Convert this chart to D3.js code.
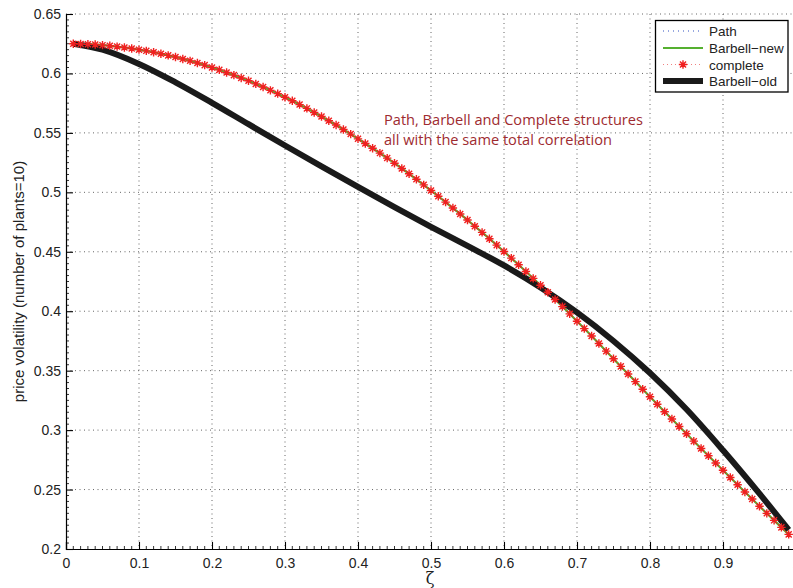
<!DOCTYPE html>
<html><head><meta charset="utf-8">
<script src="https://cdn.jsdelivr.net/npm/d3@7"></script>
<style>
body{margin:0;background:#fff;}
svg{display:block;font-family:"Liberation Sans",Arial,sans-serif;}
</style></head>
<body>
<svg id="chart" width="793" height="588"></svg>
<script>
// ---------- data ----------
const zetaComplete = d3.range(1, 100).map(i => i / 100);
const complete = [
 0.6250,0.6248,0.6246,0.6243,0.6238,0.6233,0.6226,0.6218,0.6210,0.6200,
 0.6190,0.6178,0.6166,0.6152,0.6138,0.6122,0.6106,0.6088,0.6070,0.6050,
 0.6030,0.6008,0.5986,0.5962,0.5938,0.5912,0.5886,0.5858,0.5830,0.5800,
 0.5770,0.5738,0.5706,0.5672,0.5638,0.5602,0.5566,0.5528,0.5490,0.5450,
 0.5411,0.5371,0.5330,0.5288,0.5245,0.5201,0.5156,0.5110,0.5063,0.5015,
 0.4967,0.4918,0.4868,0.4818,0.4767,0.4715,0.4663,0.4610,0.4556,0.4502,
 0.4447,0.4391,0.4334,0.4276,0.4218,0.4159,0.4099,0.4039,0.3978,0.3916,
 0.3854,0.3791,0.3728,0.3664,0.3600,0.3536,0.3472,0.3408,0.3344,0.3281,
 0.3218,0.3155,0.3093,0.3031,0.2969,0.2907,0.2845,0.2784,0.2723,0.2662,
 0.2601,0.2540,0.2480,0.2420,0.2360,0.2300,0.2241,0.2182,0.2123
];
const pathSeries = complete.slice();      // identical curves
const barbellNew = complete.slice();
const zetaOld = [0.01,0.05,0.10,0.15,0.20,0.25,0.30,0.35,0.40,0.45,0.50,0.55,0.60,0.65,0.70,0.75,0.80,0.85,0.90,0.95,0.99];
const barbellOld = [0.6250,0.6200,0.6080,0.5925,0.5753,0.5573,0.5394,0.5218,0.5045,0.4875,0.4710,0.4550,0.4385,0.4200,0.3990,0.3750,0.3480,0.3175,0.2830,0.2465,0.2160];

const xTickValues = [0,0.1,0.2,0.3,0.4,0.5,0.6,0.7,0.8,0.9,1];
const xTickLabels = ["0","0.1","0.2","0.3","0.4","0.5","0.6","0.7","0.8","0.9","1"];
const yTickValues = [0.2,0.25,0.3,0.35,0.4,0.45,0.5,0.55,0.6,0.65];
const yTickLabels = ["0.2","0.25","0.3","0.35","0.4","0.45","0.5","0.55","0.6","0.65"];
const legendNames = ["Path","Barbell\u2212new","complete","Barbell\u2212old"];

// ---------- layout ----------
const svg = d3.select("#chart");
const L = 66, R = 796, T = 14, B = 549;
const x = d3.scaleLinear().domain([0,1]).range([L,R]);
const y = d3.scaleLinear().domain([0.2,0.65]).range([B,T]);

// grid
const grid = svg.append("g").attr("stroke","#555").attr("stroke-width",0.9).attr("stroke-dasharray","1,3.5");
grid.selectAll(".gx").data(xTickValues.slice(1)).join("line")
  .attr("x1",d=>x(d)).attr("x2",d=>x(d)).attr("y1",T).attr("y2",B);
grid.selectAll(".gy").data(yTickValues.slice(1)).join("line")
  .attr("x1",L).attr("x2",R).attr("y1",d=>y(d)).attr("y2",d=>y(d));

// axes (ticks inside)
const xAxis = d3.axisBottom(x).tickValues(xTickValues).tickSize(-7).tickPadding(9)
  .tickFormat((d,i)=>xTickLabels[i]);
const yAxis = d3.axisLeft(y).tickValues(yTickValues).tickSize(-7).tickPadding(5)
  .tickFormat((d,i)=>yTickLabels[i]);
const gx = svg.append("g").attr("transform",`translate(0,${B})`).call(xAxis);
const gy = svg.append("g").attr("transform",`translate(${L},0)`).call(yAxis);
[gx,gy].forEach(g=>{
  g.select(".domain").attr("stroke","#000").attr("stroke-width",1.2);
  g.selectAll(".tick line").attr("stroke","#000").attr("stroke-width",1.1);
  g.selectAll(".tick text").attr("font-size",14).attr("fill","#222")
    .attr("font-family","'Liberation Sans',Arial,sans-serif");
});
// minor ticks
const xMinor = d3.range(0,101).map(i=>i/100).filter(v=>Math.round(v*100)%10!==0);
const yMinor = d3.range(40,131).map(i=>i/200).filter(v=>Math.round(v*200)%10!==0);
svg.append("g").selectAll("line").data(xMinor).join("line")
  .attr("x1",d=>x(d)).attr("x2",d=>x(d)).attr("y1",B).attr("y2",B-3)
  .attr("stroke","#000").attr("stroke-width",0.8);
svg.append("g").selectAll("line").data(yMinor).join("line")
  .attr("x1",L).attr("x2",L+3).attr("y1",d=>y(d)).attr("y2",d=>y(d))
  .attr("stroke","#000").attr("stroke-width",0.8);

// labels
svg.append("text").attr("x",430).attr("y",584).attr("text-anchor","middle")
  .attr("font-size",16).attr("fill","#222").attr("font-family","'DejaVu Serif',serif").text("\u03b6");
svg.append("text").attr("transform",`translate(24,${(T+B)/2}) rotate(-90)`)
  .attr("text-anchor","middle").attr("font-size",15).attr("fill","#222")
  .text("price volatility (number of plants=10)");

// series
const line = d3.line().x(d=>x(d[0])).y(d=>y(d[1]));
const lineSmooth = d3.line().x(d=>x(d[0])).y(d=>y(d[1])).curve(d3.curveCatmullRom.alpha(0.5));
const zip = (a,b)=>a.map((v,i)=>[v,b[i]]);

svg.append("path").datum(zip(zetaComplete,pathSeries)).attr("d",line)
  .attr("fill","none").attr("stroke","#3050c0").attr("stroke-width",1).attr("stroke-dasharray","1,3");
svg.append("path").datum(zip(zetaComplete,barbellNew)).attr("d",line)
  .attr("fill","none").attr("stroke","#55b030").attr("stroke-width",2.2);
svg.append("path").datum(zip(zetaOld,barbellOld)).attr("d",lineSmooth)
  .attr("fill","none").attr("stroke","#1a1a1a").attr("stroke-width",6).attr("stroke-linejoin","round");

const r = 4.2, dd = r*0.72;
const starPath = `M${-r},0L${r},0M0,${-r}L0,${r}M${-dd},${-dd}L${dd},${dd}M${-dd},${dd}L${dd},${-dd}`;
svg.append("g").selectAll("path").data(zip(zetaComplete,complete)).join("path")
  .attr("transform",d=>`translate(${x(d[0])},${y(d[1])})`)
  .attr("d",starPath).attr("fill","none").attr("stroke","#f02020").attr("stroke-width",1.4);

// annotation
const ann = svg.append("text").attr("font-family","'Open Sans',sans-serif").attr("font-size",14.6)
  .attr("fill","#9e2b30");
ann.append("tspan").attr("x",384).attr("y",125).text("Path, Barbell and Complete structures");
ann.append("tspan").attr("x",384).attr("y",145).text("all with the same total correlation");

// legend
const lg = svg.append("g");
lg.append("rect").attr("x",655.5).attr("y",20.5).attr("width",132.5).attr("height",71.5)
  .attr("fill","#fff").attr("stroke","#000").attr("stroke-width",1.3);
const rowsY = [31,48,64.5,81];
const lx1 = 663, lx2 = 703;
lg.append("line").attr("x1",lx1).attr("x2",lx2).attr("y1",rowsY[0]).attr("y2",rowsY[0])
  .attr("stroke","#3050c0").attr("stroke-width",1).attr("stroke-dasharray","1,4");
lg.append("line").attr("x1",lx1).attr("x2",lx2).attr("y1",rowsY[1]).attr("y2",rowsY[1])
  .attr("stroke","#55b030").attr("stroke-width",2.2);
lg.append("line").attr("x1",lx1).attr("x2",lx2).attr("y1",rowsY[2]).attr("y2",rowsY[2])
  .attr("stroke","#f08080").attr("stroke-width",1).attr("stroke-dasharray","1,3");
lg.append("path").attr("transform",`translate(${(lx1+lx2)/2},${rowsY[2]})`).attr("d",starPath)
  .attr("fill","none").attr("stroke","#f02020").attr("stroke-width",1.4);
lg.append("line").attr("x1",lx1).attr("x2",lx2).attr("y1",rowsY[3]).attr("y2",rowsY[3])
  .attr("stroke","#1a1a1a").attr("stroke-width",6);
lg.selectAll("text").data(legendNames).join("text")
  .attr("x",709).attr("y",(d,i)=>rowsY[i]+5).attr("font-size",13.5).attr("fill","#222").text(d=>d);
</script>
</body></html>
